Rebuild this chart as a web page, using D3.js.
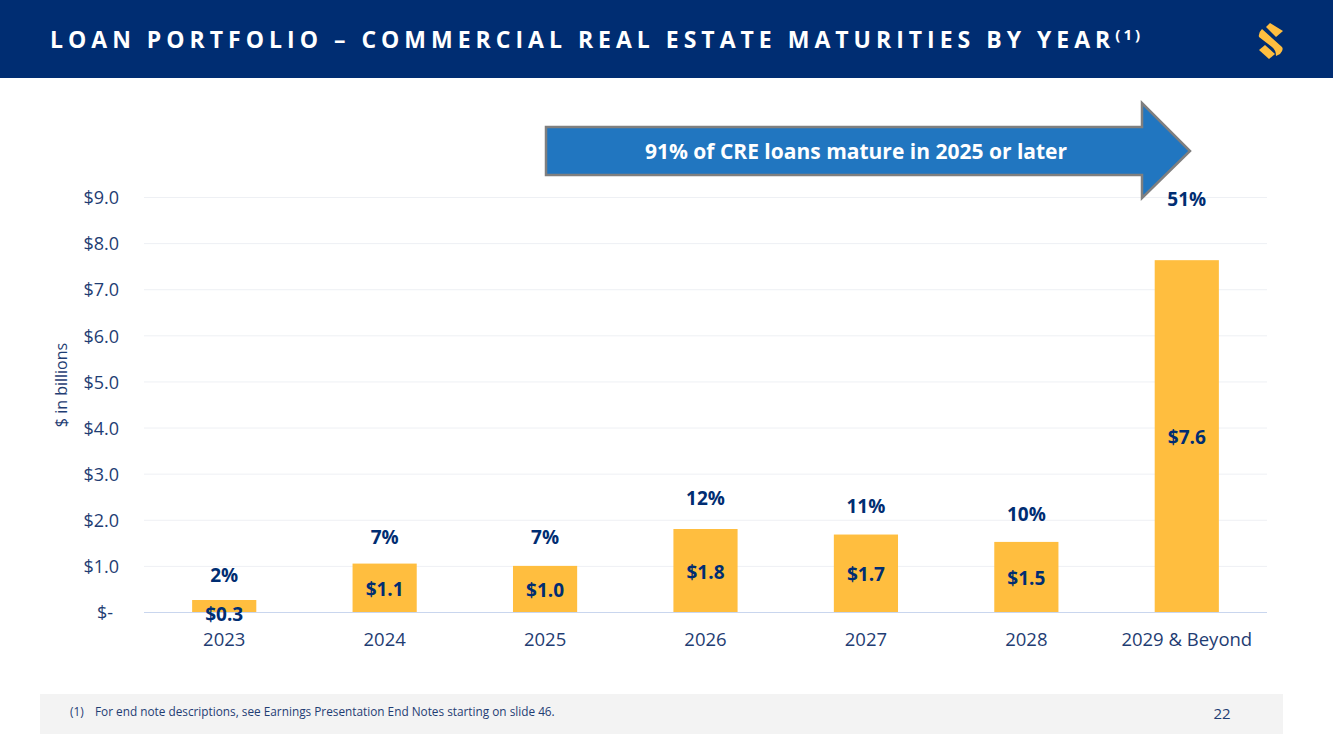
<!DOCTYPE html>
<html>
<head>
<meta charset="utf-8">
<script src="https://cdn.jsdelivr.net/npm/d3@7"></script>
<style>
  html, body { margin: 0; padding: 0; background: #fff; }
  svg { display: block; }
  text { font-family: "Open Sans", "Noto Sans", sans-serif; }
  .tick line { stroke: #eef0f4; }
  .domain { display: none; }
</style>
</head>
<body>
<svg id="chart" width="1333" height="749"></svg>
<script>
// chart data
const years = ["2023", "2024", "2025", "2026", "2027", "2028", "2029 & Beyond"];
const balances = [0.26, 1.05, 1.0, 1.8, 1.68, 1.52, 7.63];
const balanceLabels = ["$0.3", "$1.1", "$1.0", "$1.8", "$1.7", "$1.5", "$7.6"];
const shareLabels = ["2%", "7%", "7%", "12%", "11%", "10%", "51%"];
const shareHeights = [0.65, 1.48, 1.48, 2.33, 2.15, 1.98, 8.8];
const yTicks = [0, 1, 2, 3, 4, 5, 6, 7, 8, 9];

const navy = "#002d72";
const tickBlue = "#1f3d73";
const gold = "#ffbe3f";

const svg = d3.select("#chart");

// header band
svg.append("rect").attr("width", 1333).attr("height", 78).attr("fill", navy);
const title = svg.append("text")
    .attr("x", 50).attr("y", 48)
    .attr("fill", "#fff")
    .attr("font-size", 23)
    .attr("font-weight", 700)
    .attr("letter-spacing", 5)
    .text("LOAN PORTFOLIO – COMMERCIAL REAL ESTATE MATURITIES BY YEAR");
title.append("tspan")
    .attr("font-size", 15)
    .attr("letter-spacing", 3)
    .attr("dy", -8)
    .text("(1)");

// logo
const logo = svg.append("g").attr("fill", gold);
logo.append("path").attr("d", "M1270 23 L1283 31 L1276 37 L1266 27 Z");
logo.append("path").attr("d", "M1262 29 L1282 47 Q1284 50 1280 54 L1276 56 Q1276 50 1272 47 L1259 37 Q1258 33 1262 29 Z");
logo.append("path").attr("d", "M1259 50 L1265 45 L1275 54 L1269 59 Z");

const y = d3.scaleLinear().domain([0, 9]).range([612, 197]);
const x = d3.scaleBand().domain(years).range([144, 1267])
    .paddingInner(0.6).paddingOuter(0.3);

// y axis + gridlines
const yAxis = svg.append("g")
    .attr("transform", "translate(144,0)")
    .call(d3.axisLeft(y)
        .tickValues(yTicks)
        .tickSize(-1123)
        .tickPadding(25)
        .tickFormat(d => d === 0 ? "$-" : "$" + d.toFixed(1)));
yAxis.selectAll("text")
    .attr("fill", tickBlue)
    .attr("font-size", 18)
    .attr("y", 1);
yAxis.selectAll(".tick").filter(d => d === 0).select("text").attr("dx", -6);
yAxis.selectAll(".tick").filter(d => d === 0).select("line").attr("stroke", "#c9d6ee");

svg.append("text")
    .attr("transform", "translate(67,385) rotate(-90)")
    .attr("text-anchor", "middle")
    .attr("fill", tickBlue)
    .attr("font-size", 16)
    .text("$ in billions");

// bars
svg.selectAll(".bar").data(years).enter()
    .append("rect")
    .attr("class", "bar")
    .attr("x", d => x(d))
    .attr("width", x.bandwidth())
    .attr("y", (d, i) => y(balances[i]))
    .attr("height", (d, i) => y(0) - y(balances[i]))
    .attr("fill", gold);

// baseline sits over the bars
svg.append("line")
    .attr("x1", 144).attr("x2", 1267)
    .attr("y1", y(0) + 0.5).attr("y2", y(0) + 0.5)
    .attr("stroke", "#c9d6ee");

// x axis labels
const xAxis = svg.append("g")
    .attr("transform", "translate(0," + y(0) + ")")
    .call(d3.axisBottom(x).tickSize(0).tickPadding(21));
xAxis.selectAll("text")
    .attr("fill", tickBlue)
    .attr("font-size", 18.5);

// balance labels, a bar too short to hold its label gets it over the baseline
function balanceY(v) {
    const mid = y(v / 2);
    return y(0) - y(v) < 20 ? y(0) + 2 : mid + 1;
}
svg.selectAll(".balance").data(years).enter()
    .append("text")
    .attr("class", "balance")
    .attr("x", d => x(d) + x.bandwidth() / 2)
    .attr("y", (d, i) => balanceY(balances[i]) + 7)
    .attr("text-anchor", "middle")
    .attr("fill", navy)
    .attr("font-size", 19)
    .attr("font-weight", 700)
    .text((d, i) => balanceLabels[i]);

// share labels
svg.selectAll(".share").data(years).enter()
    .append("text")
    .attr("class", "share")
    .attr("x", d => x(d) + x.bandwidth() / 2)
    .attr("y", (d, i) => y(shareHeights[i]))
    .attr("text-anchor", "middle")
    .attr("fill", navy)
    .attr("font-size", 19)
    .attr("font-weight", 700)
    .text((d, i) => shareLabels[i]);

// callout arrow
svg.append("path")
    .attr("d", "M546 127 H1142 V103 L1190 151 L1142 198 V175 H546 Z")
    .attr("fill", "#2176c0")
    .attr("stroke", "#7f7f7f")
    .attr("stroke-width", 2.5);
svg.append("text")
    .attr("x", 856).attr("y", 159)
    .attr("text-anchor", "middle")
    .attr("fill", "#fff")
    .attr("font-size", 21)
    .attr("font-weight", 700)
    .text("91% of CRE loans mature in 2025 or later");

// footer
svg.append("rect")
    .attr("x", 40).attr("y", 694)
    .attr("width", 1243).attr("height", 40)
    .attr("fill", "#f3f3f3");
svg.append("text")
    .attr("x", 70).attr("y", 716)
    .attr("fill", tickBlue)
    .attr("font-size", 11.8)
    .text("(1)");
svg.append("text")
    .attr("x", 95).attr("y", 716)
    .attr("fill", tickBlue)
    .attr("font-size", 11.8)
    .text("For end note descriptions, see Earnings Presentation End Notes starting on slide 46.");
svg.append("text")
    .attr("x", 1222).attr("y", 719)
    .attr("text-anchor", "middle")
    .attr("fill", tickBlue)
    .attr("font-size", 15)
    .text("22");
</script>
</body>
</html>
